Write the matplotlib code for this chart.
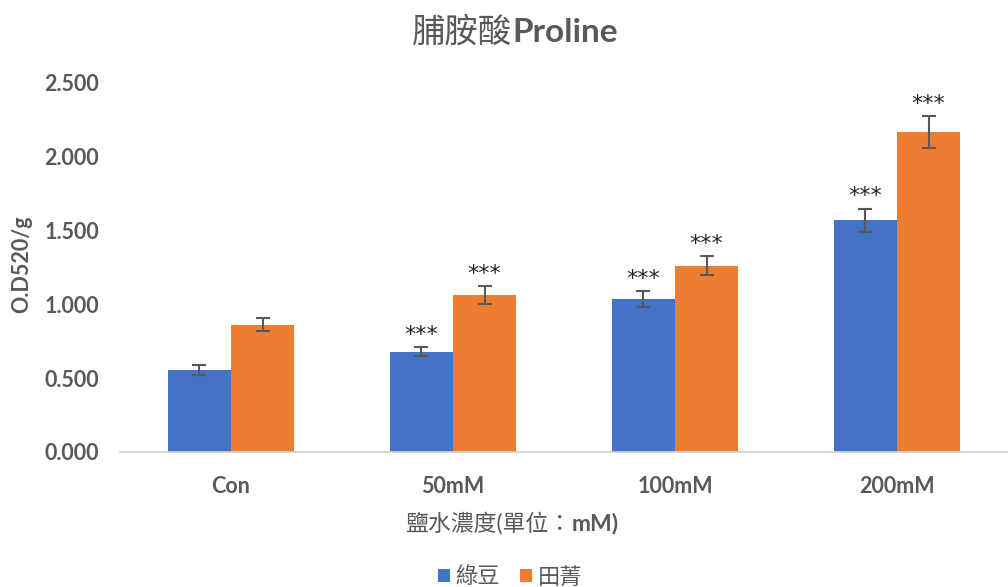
import matplotlib.pyplot as plt
import numpy as np

plt.rcParams['font.family'] = ['Lato', 'Noto Sans CJK TC', 'DejaVu Sans']

categories = ['Con', '50mM', '100mM', '200mM']
mung = [0.556, 0.678, 1.032, 1.565]
mung_err = [0.035, 0.032, 0.054, 0.081]
sesbania = [0.860, 1.062, 1.259, 2.160]
sesbania_err = [0.045, 0.062, 0.065, 0.108]
mung_sig = ['', '***', '***', '***']
sesbania_sig = ['', '***', '***', '***']

blue = '#4472C4'
orange = '#ED7D31'
gray = '#595959'

fig = plt.figure(figsize=(10.08, 5.87), dpi=100)
ax = fig.add_axes([0.119, 0.230, 0.881, 0.630])

x = np.arange(len(categories))
w = 0.285
eb = dict(ecolor='#595959', elinewidth=1.5, capsize=5, capthick=1.5)
b1 = ax.bar(x - w / 2, mung, w, yerr=mung_err, color=blue, label='綠豆', error_kw=eb)
b2 = ax.bar(x + w / 2, sesbania, w, yerr=sesbania_err, color=orange, label='田菁', error_kw=eb)

# significance stars above error bars
for xs, vals, errs, sig in [(x - w / 2, mung, mung_err, mung_sig),
                            (x + w / 2, sesbania, sesbania_err, sesbania_sig)]:
    for xi, v, e, s in zip(xs, vals, errs, sig):
        if s:
            ax.text(xi, v + e + 0.015, s, ha='center', va='bottom', fontsize=16,
                    color='#262626', family='DejaVu Sans')

ax.set_xlim(-0.5, 3.5)
ax.set_ylim(0, 2.5)
ax.set_yticks(np.arange(0, 2.51, 0.5))
ax.set_yticklabels([f'{v:.3f}' for v in np.arange(0, 2.51, 0.5)])
ax.set_xticks(x)
ax.set_xticklabels(categories)
for lbl in ax.get_xticklabels() + ax.get_yticklabels():
    lbl.set_fontweight('bold')
    lbl.set_fontsize(15.5)
    lbl.set_color(gray)
ax.tick_params(axis='x', length=0, pad=17)
ax.tick_params(axis='y', length=0, pad=15)

for s in ['top', 'right', 'left']:
    ax.spines[s].set_visible(False)
ax.spines['bottom'].set_color('#D0D0D0')
ax.spines['bottom'].set_linewidth(1.2)

fig.text(0.022, 0.549, 'O.D520/g', rotation=90, ha='center', va='center',
         fontsize=15.5, fontweight='bold', color=gray)

fig.text(0.567, 0.109, '鹽水濃度(單位：', ha='right', va='center', fontsize=16.5, color=gray)
fig.text(0.567, 0.109, 'mM)', ha='left', va='center', fontsize=16.5,
         fontweight='bold', color=gray)

fig.text(0.508, 0.945, '脯胺酸', ha='right', va='center', fontsize=24, color=gray)
fig.text(0.508, 0.945, 'Proline', ha='left', va='center', fontsize=24,
         fontweight='bold', color=gray)

fig.legend(handles=[b1, b2], loc='center', bbox_to_anchor=(0.506, 0.017), ncol=2,
           frameon=False, fontsize=16, labelcolor=gray, handlelength=0.55,
           handleheight=0.55, handletextpad=0.25, columnspacing=0.9)

fig.savefig('out.png', dpi=100)
